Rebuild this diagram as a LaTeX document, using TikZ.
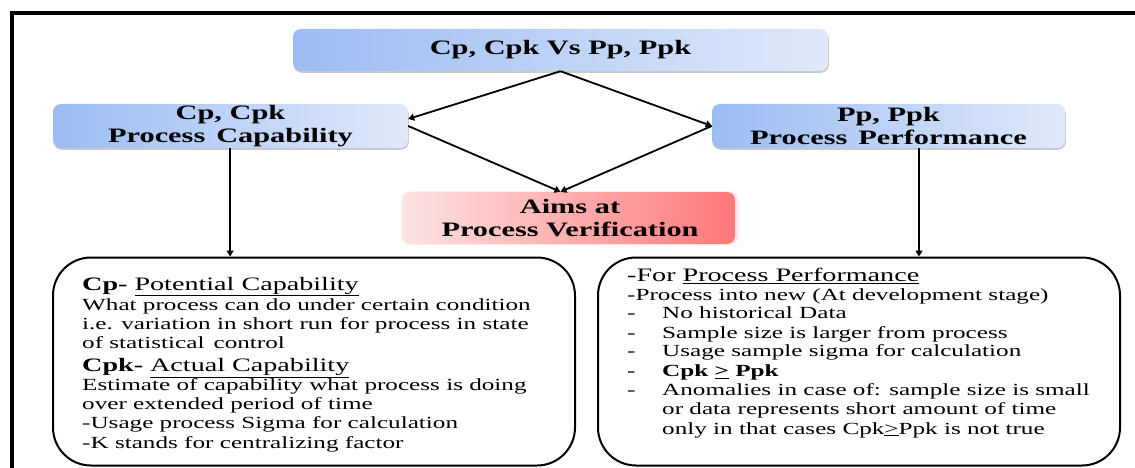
\documentclass[tikz,border=0pt]{standalone}
\usepackage{fontspec}
\setmainfont{Liberation Serif}[FakeStretch=1.48]
\usetikzlibrary{arrows.meta,shadows}

\definecolor{blueL}{RGB}{155,188,243}
\definecolor{blueR}{RGB}{224,233,250}
\definecolor{redL}{RGB}{253,226,226}
\definecolor{redR}{RGB}{255,120,120}

\begin{document}
\begin{tikzpicture}[x=1pt,y=-1pt,
  titlebox/.style={font=\fontsize{20.5}{23.5}\selectfont\bfseries, align=center,
    rounded corners=8pt, inner sep=0pt},
  bluebox/.style={titlebox, left color=blueL, right color=blueR,
    drop shadow={shadow xshift=0.8pt, shadow yshift=-1.8pt, opacity=0.3, fill=black!70}},
  redbox/.style={titlebox, left color=redL, right color=redR,
    drop shadow={shadow xshift=0pt, shadow yshift=0pt, shadow scale=1.02, opacity=0.25, fill=red!40}},
  notebox/.style={draw=black, line width=2pt, fill=white, rounded corners=38pt, inner sep=0pt},
  arr/.style={line width=1.8pt, -{Triangle[length=6pt,width=7pt]}},
  txt/.style={anchor=base west, inner sep=0pt, font=\fontsize{17}{19}\selectfont},
  hdr/.style={txt, font=\fontsize{19}{21}\selectfont},
]
\useasboundingbox (0,0) rectangle (1135,468);

% outer frame, running off the right and bottom edges
\draw[line width=3.5pt] (12,490) -- (12,13) -- (1160,13);

% title boxes
\node[bluebox, minimum width=535, minimum height=42] (T) at (560.5,50) {Cp, Cpk Vs Pp, Ppk};
\node[bluebox, minimum width=355, minimum height=44] (L) at (230.5,126) {Cp, Cpk\\Process\, Capability};
\node[bluebox, minimum width=353, minimum height=44] (R) at (888.5,126) {Pp, Ppk\\Process\, Performance};
\node[redbox, minimum width=330, minimum height=52] (A) at (570,218) {Aims at\\Process Verification};

% note boxes
\node[notebox, minimum width=522, minimum height=208] (BL) at (314,361.5) {};
\node[notebox, minimum width=522, minimum height=208] (BR) at (859,361.5) {};

% connectors
\draw[arr] (T.south) -- ([yshift=7pt]L.east);
\draw[arr] (T.south) -- (R.west);
\draw[arr] (L.east) -- (A.north -| T.south);
\draw[arr] (R.west) -- (A.north -| T.south);
\draw[arr, line width=2pt] ([xshift=-0.4pt]L.south) -- ([xshift=-0.4pt]L.south |- BL.north);
\draw[arr, line width=2pt] ([xshift=30.5pt]R.south) -- ([xshift=30.5pt]R.south |- BR.north);

% capability notes
\node[hdr] (l1) at (82,290)   {\textbf{Cp-} \underline{Potential Capability}};
\node[txt] (l2) at (82,310)   {What process can do under certain condition};
\node[txt] (l3) at (82,329.3) {i.e. variation in short run for process in state};
\node[txt] (l4) at (82,348.3) {of statistical\, control};
\node[hdr] (l5) at (82,371.7) {\textbf{Cpk-} \underline{Actual Capability}};
\node[txt] (l6) at (82,390)   {Estimate of capability what process is doing};
\node[txt] (l7) at (82,409)   {over extended period of time};
\node[txt] (l8) at (82,428.3) {-Usage process Sigma for calculation};
\node[txt] (l9) at (82,448.3) {-K stands for centralizing factor};

% performance notes
\node[hdr] (r1) at (627,281.7) {-For \underline{Process Performance}};
\node[txt] (r2) at (627,300.7) {-Process into new (At development stage)};
\node[txt] (r3) at (627,318.3) {\makebox[35pt][l]{-}No historical Data};
\node[txt] (r4) at (627,338.3) {\makebox[35pt][l]{-}Sample size is larger from process};
\node[txt] (r5) at (627,356.7) {\makebox[35pt][l]{-}Usage sample sigma for calculation};
\node[txt] (r6) at (627,376.7) {\makebox[35pt][l]{-}\textbf{Cpk \underline{>} Ppk}};
\node[txt] (r7) at (627,395)   {\makebox[35pt][l]{-}Anomalies in case of: sample size is small};
\node[txt] (r8) at (662,414.3) {or data represents short amount of time};
\node[txt] (r9) at (662,434)   {only in that cases Cpk\underline{>}Ppk is not true};
\end{tikzpicture}
\end{document}
